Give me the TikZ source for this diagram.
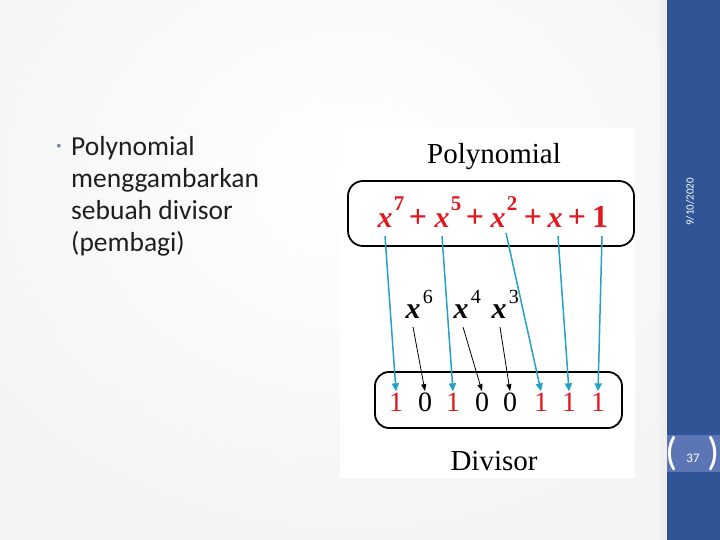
\documentclass[tikz,border=0pt]{standalone}
\usepackage{fontspec}
\setmainfont{Liberation Serif}
\newfontfamily\slidefont{Carlito}
\usetikzlibrary{arrows.meta, positioning}
\definecolor{barblue}{RGB}{47, 85, 151}
\definecolor{numblue}{RGB}{92, 117, 181}
\definecolor{polyred}{RGB}{226, 24, 30}
\definecolor{linkteal}{RGB}{38, 160, 196}
\definecolor{bulletgray}{RGB}{120, 135, 165}

\begin{document}
\begin{tikzpicture}[x=1pt, y=-1pt,
    frame/.style={draw, line width=1.8pt, rounded corners=15pt},
    term/.style={text=polyred, inner sep=0pt, anchor=base, font=\fontsize{30}{30}\selectfont\bfseries\itshape},
    powr/.style={text=polyred, inner sep=0pt, anchor=base west, font=\fontsize{21}{21}\selectfont\bfseries},
    plus/.style={text=polyred, inner sep=0pt, anchor=base, font=\fontsize{32}{32}\selectfont\bfseries},
    bit/.style={inner sep=2pt, anchor=base, font=\fontsize{28}{28}\selectfont},
    zterm/.style={inner sep=0pt, anchor=base, font=\fontsize{30}{30}\selectfont\bfseries\itshape},
    zpowr/.style={inner sep=0pt, anchor=base west, font=\fontsize{20}{20}\selectfont},
    link/.style={linkteal, line width=1.5pt, -{Triangle[length=8pt, width=7pt]}},
    zlink/.style={black, line width=0.8pt, -{Triangle[length=7pt, width=5pt]}},
    caption/.style={font=\fontsize{29}{29}\selectfont, anchor=base},
    paren/.style={white, inner sep=0pt, font=\slidefont\fontsize{40}{40}\selectfont}]
    \useasboundingbox (0,0) rectangle (720,540);
    % slide background
    \fill[gray!9] (0,0) rectangle (667,540);
    \shade[inner color=white, outer color=gray!9] (-120,-200) rectangle (820,560);
    \fill[white] (340,128) rectangle (635,478);
    \fill[gray!12] (660,0) rectangle (667,540);
    \fill[barblue] (667,0) rectangle (720,540);
    \fill[numblue] (667,435) rectangle (720,472);
    \node[white, rotate=90, font=\slidefont\fontsize{11}{11}\selectfont] (date) at (690,202) {9/10/2020};
    \node[white, font=\slidefont\fontsize{13}{13}\selectfont] (page) at (693,458) {37};
    \node[paren] at (672,454) {(};
    \node[paren] at (714,454) {)};

    % bullet text
    \node[bulletgray, font=\fontsize{16}{16}\selectfont] (dot) at (59,148) {\textbullet};
    \node[anchor=north west, align=left, inner sep=0pt, text=black!88,
          font=\slidefont\fontsize{27.5}{32}\selectfont] (txt) at (71,136)
          {Polynomial\\menggambarkan\\sebuah divisor\\(pembagi)};

    % polynomial box
    \node[caption] (ptitle) at (494,164) {Polynomial};
    \node[frame, minimum width=286pt, minimum height=65pt] (pbox) at (491,213.5) {};
    \node[term] (p7) at (385,227) {x};
    \node[powr] at ([xshift=1pt, yshift=16pt]p7.base east) {7};
    \node[plus] (s1) at (418,227) {+};
    \node[term] (p5) at (442,227) {x};
    \node[powr] at ([xshift=1pt, yshift=16pt]p5.base east) {5};
    \node[plus] (s2) at (475,227) {+};
    \node[term] (p2) at (498,227) {x};
    \node[powr] at ([xshift=1pt, yshift=16pt]p2.base east) {2};
    \node[plus] (s3) at (533,227) {+};
    \node[term] (p1) at (555,227) {x};
    \node[plus] (s4) at (577,227) {+};
    \node[plus] (p0) at (600,227) {1};

    % divisor box
    \node[frame, rounded corners=14pt, minimum width=247pt, minimum height=56pt] (dbox) at (498.5,400) {};
    \node[bit, text=polyred] (d1) at (396,411) {1};
    \node[bit] (d2) at (425,411) {0};
    \node[bit, text=polyred] (d3) at (453,411) {1};
    \node[bit] (d4) at (482,411) {0};
    \node[bit] (d5) at (510,411) {0};
    \node[bit, text=polyred] (d6) at (541,411) {1};
    \node[bit, text=polyred] (d7) at (569,411) {1};
    \node[bit, text=polyred] (d8) at (598,411) {1};
    \node[caption] (dtitle) at (494,470) {Divisor};

    % missing powers
    \node[zterm] (z6) at (413,318) {x};
    \node[zpowr] at ([xshift=2pt, yshift=15pt]z6.base east) {6};
    \node[zterm] (z4) at (461,318) {x};
    \node[zpowr] at ([xshift=2pt, yshift=15pt]z4.base east) {4};
    \node[zterm] (z3) at (499,318) {x};
    \node[zpowr] at ([xshift=2pt, yshift=15pt]z3.base east) {3};

    \draw[link] ([yshift=-9pt]p7.base) -- ([yshift=-1pt]d1.north);
    \draw[link] ([yshift=-9pt]p5.base) -- ([yshift=-1pt]d3.north);
    \draw[link] ([xshift=8pt, yshift=-6pt]p2.base) -- ([yshift=-1pt]d6.north);
    \draw[link] ([xshift=3pt, yshift=-9pt]p1.base) -- ([yshift=-1pt]d7.north);
    \draw[link] ([xshift=2pt, yshift=-9pt]p0.base) -- ([yshift=-1pt]d8.north);
    \draw[zlink] ([yshift=-9pt]z6.base) -- ([yshift=-1pt]d2.north);
    \draw[zlink] ([xshift=2pt, yshift=-9pt]z4.base) -- ([yshift=-1pt]d4.north);
    \draw[zlink] ([xshift=1pt, yshift=-9pt]z3.base) -- ([yshift=-1pt]d5.north);
\end{tikzpicture}
\end{document}
